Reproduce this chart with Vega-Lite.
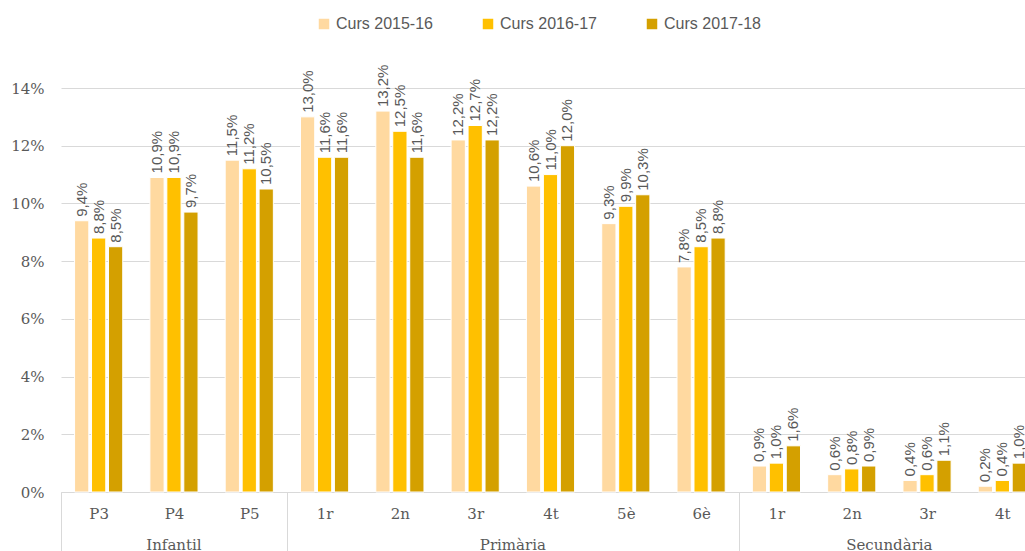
{
  "$schema": "https://vega.github.io/schema/vega-lite/v6.json",
  "width": 979,
  "height": 404,
  "padding": {"left": 10, "top": 16, "right": 0, "bottom": 0},
  "config": {
    "view": {"stroke": null},
    "locale": {"number": {"decimal": ",", "thousands": ".", "grouping": [3], "currency": ["", " €"]}}
  },
  "datasets": {
    "bars": [
      {"k": "I-P3", "curs": "Curs 2015-16", "v": 0.094}, {"k": "I-P3", "curs": "Curs 2016-17", "v": 0.088}, {"k": "I-P3", "curs": "Curs 2017-18", "v": 0.085},
      {"k": "I-P4", "curs": "Curs 2015-16", "v": 0.109}, {"k": "I-P4", "curs": "Curs 2016-17", "v": 0.109}, {"k": "I-P4", "curs": "Curs 2017-18", "v": 0.097},
      {"k": "I-P5", "curs": "Curs 2015-16", "v": 0.115}, {"k": "I-P5", "curs": "Curs 2016-17", "v": 0.112}, {"k": "I-P5", "curs": "Curs 2017-18", "v": 0.105},
      {"k": "P-1r", "curs": "Curs 2015-16", "v": 0.130}, {"k": "P-1r", "curs": "Curs 2016-17", "v": 0.116}, {"k": "P-1r", "curs": "Curs 2017-18", "v": 0.116},
      {"k": "P-2n", "curs": "Curs 2015-16", "v": 0.132}, {"k": "P-2n", "curs": "Curs 2016-17", "v": 0.125}, {"k": "P-2n", "curs": "Curs 2017-18", "v": 0.116},
      {"k": "P-3r", "curs": "Curs 2015-16", "v": 0.122}, {"k": "P-3r", "curs": "Curs 2016-17", "v": 0.127}, {"k": "P-3r", "curs": "Curs 2017-18", "v": 0.122},
      {"k": "P-4t", "curs": "Curs 2015-16", "v": 0.106}, {"k": "P-4t", "curs": "Curs 2016-17", "v": 0.110}, {"k": "P-4t", "curs": "Curs 2017-18", "v": 0.120},
      {"k": "P-5è", "curs": "Curs 2015-16", "v": 0.093}, {"k": "P-5è", "curs": "Curs 2016-17", "v": 0.099}, {"k": "P-5è", "curs": "Curs 2017-18", "v": 0.103},
      {"k": "P-6è", "curs": "Curs 2015-16", "v": 0.078}, {"k": "P-6è", "curs": "Curs 2016-17", "v": 0.085}, {"k": "P-6è", "curs": "Curs 2017-18", "v": 0.088},
      {"k": "S-1r", "curs": "Curs 2015-16", "v": 0.009}, {"k": "S-1r", "curs": "Curs 2016-17", "v": 0.010}, {"k": "S-1r", "curs": "Curs 2017-18", "v": 0.016},
      {"k": "S-2n", "curs": "Curs 2015-16", "v": 0.006}, {"k": "S-2n", "curs": "Curs 2016-17", "v": 0.008}, {"k": "S-2n", "curs": "Curs 2017-18", "v": 0.009},
      {"k": "S-3r", "curs": "Curs 2015-16", "v": 0.004}, {"k": "S-3r", "curs": "Curs 2016-17", "v": 0.006}, {"k": "S-3r", "curs": "Curs 2017-18", "v": 0.011},
      {"k": "S-4t", "curs": "Curs 2015-16", "v": 0.002}, {"k": "S-4t", "curs": "Curs 2016-17", "v": 0.004}, {"k": "S-4t", "curs": "Curs 2017-18", "v": 0.010}
    ],
    "levels": [
      {"level": "Infantil", "k": "I-P4", "pos": "mid"},
      {"level": "Primària", "k": "P-4t", "pos": "edge"},
      {"level": "Secundària", "k": "S-3r", "pos": "edge"}
    ]
  },
  "layer": [
    {
      "data": {"name": "bars"},
      "mark": {"type": "bar", "stroke": "white", "strokeWidth": 1},
      "encoding": {
        "x": {
          "field": "k", "type": "nominal", "sort": null,
          "scale": {"paddingInner": 0, "paddingOuter": 0},
          "axis": {
            "title": null,
            "labelExpr": "split(datum.value, '-')[1]",
            "labelAngle": 0,
            "tickBand": "extent",
            "tickSize": 59,
            "tickColor": {"condition": {"test": "indexof(['I-P5','P-6è'], datum.value) >= 0 || datum.extra", "value": "#d9d9d9"}, "value": "transparent"},
            "labelPadding": -45,
            "domainColor": "#d9d9d9",
            "labelFontSize": 15,
            "labelFont": "DejaVu Serif",
            "labelColor": "#595959",
            "grid": false
          }
        },
        "xOffset": {"field": "curs", "type": "nominal", "scale": {"paddingInner": 0.16, "paddingOuter": 0.8}},
        "y": {
          "field": "v", "type": "quantitative",
          "scale": {"domain": [0, 0.14], "nice": false},
          "axis": {
            "title": null,
            "values": [0, 0.02, 0.04, 0.06, 0.08, 0.10, 0.12, 0.14],
            "format": ".0%",
            "grid": true,
            "gridColor": "#d9d9d9",
            "domain": false,
            "ticks": false,
            "labelPadding": 17,
            "labelFontSize": 15,
            "labelFont": "DejaVu Serif",
            "labelColor": "#595959"
          }
        },
        "color": {
          "field": "curs", "type": "nominal",
          "scale": {"range": ["#FFD9A0", "#FFC000", "#D4A000"]},
          "legend": {
            "title": null,
            "orient": "none",
            "legendX": 255,
            "legendY": -72,
            "direction": "horizontal",
            "symbolType": "square",
            "symbolSize": 110,
            "symbolStrokeWidth": 0,
            "labelFontSize": 16,
            "labelFont": "Liberation Sans Narrow, Liberation Sans",
            "labelColor": "#595959",
            "columnPadding": 47
          }
        }
      }
    },
    {
      "data": {"name": "bars"},
      "mark": {"type": "text", "angle": 270, "align": "left", "baseline": "middle", "dx": 4, "fontSize": 15, "font": "Liberation Sans Narrow, Liberation Sans", "color": "#595959"},
      "encoding": {
        "x": {"field": "k", "type": "nominal", "sort": null},
        "xOffset": {"field": "curs", "type": "nominal"},
        "y": {"field": "v", "type": "quantitative"},
        "text": {"field": "v", "type": "quantitative", "format": ".1%"}
      }
    },
    {
      "data": {"name": "levels"},
      "transform": [{"filter": "datum.pos == 'mid'"}],
      "mark": {"type": "text", "align": "center", "baseline": "middle", "dy": 53, "fontSize": 15, "font": "DejaVu Serif", "color": "#595959"},
      "encoding": {
        "x": {"field": "k", "type": "nominal", "sort": null},
        "y": {"datum": 0},
        "text": {"field": "level"}
      }
    },
    {
      "data": {"name": "levels"},
      "transform": [{"filter": "datum.pos == 'edge'"}],
      "mark": {"type": "text", "align": "center", "baseline": "middle", "dy": 53, "fontSize": 15, "font": "DejaVu Serif", "color": "#595959"},
      "encoding": {
        "x": {"field": "k", "type": "nominal", "sort": null, "bandPosition": 0},
        "y": {"datum": 0},
        "text": {"field": "level"}
      }
    }
  ]
}
